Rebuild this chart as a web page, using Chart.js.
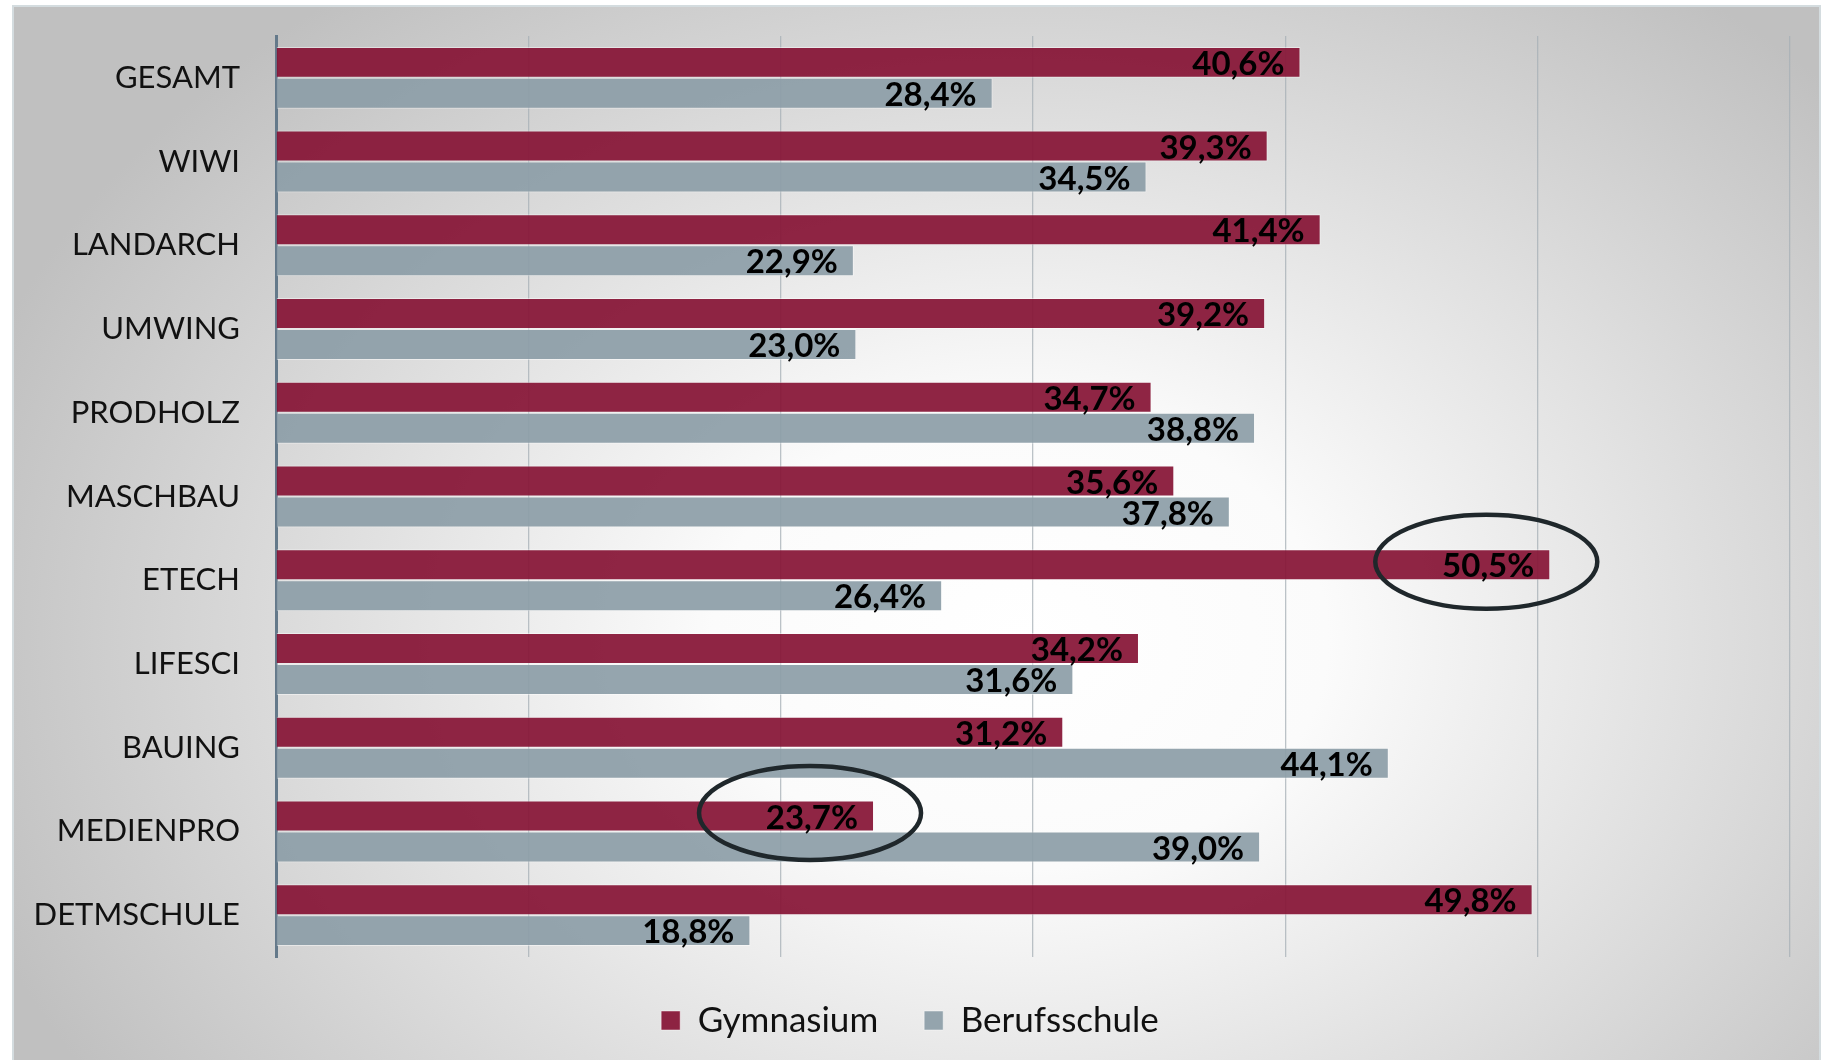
<!DOCTYPE html>
<html><head><meta charset="utf-8">
<script src="https://cdn.jsdelivr.net/npm/chart.js@4.4.1/dist/chart.umd.min.js"></script>
<style>html,body{margin:0;padding:0;background:#fff;overflow:hidden}#wrap{width:1826px;height:1060px;position:relative}canvas{display:block}</style>
</head><body><div id="wrap"><canvas id="c" width="1826" height="1060"></canvas></div>
<script>
const categories = ['GESAMT','WIWI','LANDARCH','UMWING','PRODHOLZ','MASCHBAU','ETECH','LIFESCI','BAUING','MEDIENPRO','DETMSCHULE'];
const gymnasium = [40.6, 39.3, 41.4, 39.2, 34.7, 35.6, 50.5, 34.2, 31.2, 23.7, 49.8];
const berufsschule = [28.4, 34.5, 22.9, 23.0, 38.8, 37.8, 26.4, 31.6, 44.1, 39.0, 18.8];
const seriesNames = ['Gymnasium', 'Berufsschule'];
const axisMin = 0, axisMax = 60, axisStep = 10;
const highlighted = ['ETECH', 'MEDIENPRO'];

const FONT = 'Lato, "Open Sans", "DejaVu Sans", sans-serif';
const fmt = v => v.toFixed(1).replace('.', ',') + '%';

const bgPlugin = {
  id: 'bg',
  beforeDraw(chart) {
    const ctx = chart.ctx, W = chart.width, H = chart.height;
    ctx.save();
    ctx.fillStyle = '#ffffff';
    ctx.fillRect(0, 0, W, H);
    const x0 = 13, y0 = 6, x1 = 1820, y1 = H + 2;
    ctx.beginPath(); ctx.rect(x0, y0, x1 - x0, y1 - y0); ctx.clip();
    const cx = 1020, cy = 640, rx = 1100, ry = 820;
    ctx.translate(cx, cy); ctx.scale(rx / ry, 1);
    const g = ctx.createRadialGradient(0, 0, 0, 0, 0, ry);
    g.addColorStop(0, '#ffffff');
    g.addColorStop(0.28, '#fbfbfb');
    g.addColorStop(1, '#c0c0c0');
    ctx.fillStyle = g;
    ctx.fillRect(-cx * ry / rx - 10, -cy - 10, W * ry / rx + 20, H + 20);
    ctx.restore();
    ctx.save();
    ctx.strokeStyle = '#d4dcdf'; ctx.lineWidth = 2;
    ctx.strokeRect(x0, y0, x1 - x0, y1 - y0);
    ctx.restore();
  }
};

const labelPlugin = {
  id: 'valueLabels',
  afterDatasetsDraw(chart) {
    const ctx = chart.ctx;
    ctx.save();
    ctx.font = 'bold 33px ' + FONT;
    ctx.textAlign = 'right';
    ctx.textBaseline = 'middle';
    ctx.fillStyle = '#000000';
    chart.data.datasets.forEach((ds, di) => {
      const meta = chart.getDatasetMeta(di);
      meta.data.forEach((el, i) => {
        ctx.fillText(fmt(ds.data[i]), el.x - 16, el.y + 2);
      });
    });
    // highlight ellipses around selected Gymnasium values
    const meta0 = chart.getDatasetMeta(0);
    ctx.strokeStyle = '#1f272b';
    ctx.lineWidth = 4.5;
    highlighted.forEach(cat => {
      const i = categories.indexOf(cat);
      const el = meta0.data[i];
      ctx.beginPath();
      ctx.ellipse(el.x - 64, el.y - 3, 111, 47, 0, 0, Math.PI * 2);
      ctx.stroke();
    });
    ctx.restore();
  }
};

function build() {
  new Chart(document.getElementById('c'), {
    type: 'bar',
    data: {
      labels: categories,
      datasets: [
        { label: seriesNames[0], data: gymnasium, backgroundColor: 'rgba(135,20,54,0.93)', borderColor: 'rgba(255,255,255,0.45)', borderWidth: 1, borderSkipped: 'start' },
        { label: seriesNames[1], data: berufsschule, backgroundColor: 'rgba(141,158,168,0.93)', borderColor: 'rgba(255,255,255,0.45)', borderWidth: 1, borderSkipped: 'start' }
      ]
    },
    options: {
      indexAxis: 'y',
      responsive: false,
      devicePixelRatio: 1,
      animation: false,
      events: [],
      categoryPercentage: 0.74,
      barPercentage: 1.0,
      layout: { padding: { left: 30, right: 36, top: 36, bottom: 12 } },
      font: { family: FONT },
      scales: {
        x: {
          min: axisMin, max: axisMax,
          ticks: { display: false, stepSize: axisStep },
          grid: { color: 'rgba(165,175,182,0.75)', lineWidth: 1.3, drawTicks: false },
          border: { display: false },
          afterFit(s) { s.paddingLeft = 0; s.paddingRight = 0; }
        },
        y: {
          afterFit(s) { s.width = 246; s.paddingTop = 0; s.paddingBottom = 0; },
          ticks: { color: '#111111', font: { family: FONT, size: 31 }, padding: 36 },
          grid: { display: false, drawTicks: false },
          border: { display: true, color: '#64798a', width: 3 }
        }
      },
      plugins: {
        legend: {
          position: 'bottom',
          labels: { color: '#111111', font: { family: FONT, size: 35 }, boxWidth: 19, boxHeight: 19, padding: 46 }
        },
        tooltip: { enabled: false }
      }
    },
    plugins: [bgPlugin, labelPlugin]
  });
}
Chart.defaults.font.family = FONT;
Promise.all([document.fonts.load('33px Lato'), document.fonts.load('bold 33px Lato')]).then(build, build);
</script>
</body></html>
